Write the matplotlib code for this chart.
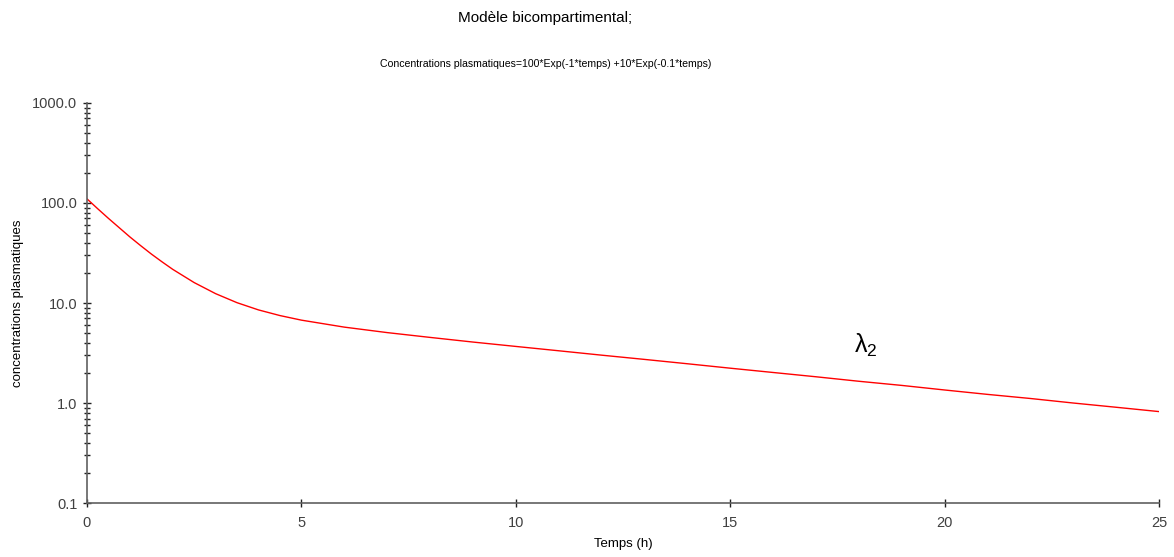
import matplotlib
matplotlib.use("Agg")
import matplotlib.pyplot as plt
from matplotlib.ticker import LogLocator, FixedLocator, NullFormatter

plt.rcParams['font.family'] = ['Liberation Sans', 'DejaVu Sans']
plt.rcParams['mathtext.fontset'] = 'custom'
plt.rcParams['mathtext.rm'] = 'Liberation Sans'
plt.rcParams['mathtext.it'] = 'Liberation Sans'

# Data
temps = [0, 0.25, 0.5, 0.75, 1, 1.25, 1.5, 1.75, 2, 2.5, 3, 3.5, 4, 4.5, 5, 6, 7, 8,
         9, 10, 11, 12, 13, 14, 15, 16, 17, 18, 19, 20, 21, 22, 23, 24, 25]
conc = [110.0, 87.6, 70.2, 56.7, 45.8, 37.5, 30.9, 25.8, 21.7, 16.0, 12.4, 10.07, 8.53,
        7.49, 6.74, 5.74, 5.06, 4.53, 4.07, 3.68, 3.33, 3.01, 2.73, 2.47, 2.23, 2.02,
        1.83, 1.65, 1.50, 1.35, 1.22, 1.11, 1.00, 0.907, 0.821]
yticks = [0.1, 1.0, 10.0, 100.0, 1000.0]
ytick_labels = ["0.1", "1.0", "10.0", "100.0", "1000.0"]
xticks = [0, 5, 10, 15, 20, 25]

fig = plt.figure(figsize=(11.74, 5.57), dpi=100)
ax = fig.add_axes([0.0741, 0.0969, 0.9131, 0.7182])
ax.plot(temps, conc, color='#ff0000', lw=1.0)
ax.set_yscale('log')
ax.set_xlim(0, 25)
ax.set_ylim(0.1, 1000)

ax.yaxis.set_major_locator(FixedLocator(yticks))
ax.set_yticklabels(ytick_labels)
ax.yaxis.set_minor_locator(LogLocator(base=10, subs=range(2, 10), numticks=20))
ax.yaxis.set_minor_formatter(NullFormatter())
ax.set_xticks(xticks)
ax.set_xticklabels([str(v) for v in xticks])

for s in ['top', 'right']:
    ax.spines[s].set_visible(False)
for s in ['left', 'bottom']:
    ax.spines[s].set_color('#606060')
    ax.spines[s].set_linewidth(1.2)

ax.tick_params(axis='both', which='major', direction='inout', length=6, width=1,
               color='#202020', labelsize=10.5, labelcolor='#404040')
ax.tick_params(axis='x', which='major', pad=6)
ax.tick_params(axis='y', which='major', pad=4)
ax.tick_params(axis='y', which='minor', direction='inout', length=4, width=1, color='#202020')

ax.set_xlabel('Temps (h)', fontsize=9.5, labelpad=6)
ax.set_ylabel('concentrations plasmatiques', fontsize=9.5, labelpad=6)

fig.text(0.464, 0.968, 'Modèle bicompartimental;', ha='center', va='center',
         fontsize=11)
fig.text(0.465, 0.885, 'Concentrations plasmatiques=100*Exp(-1*temps) +10*Exp(-0.1*temps)',
         ha='center', va='center', fontsize=7.6)

ax.text(18.15, 3.8, r'$\lambda_2$', fontsize=18, ha='center', va='center')

fig.savefig('out.png', dpi=100)
